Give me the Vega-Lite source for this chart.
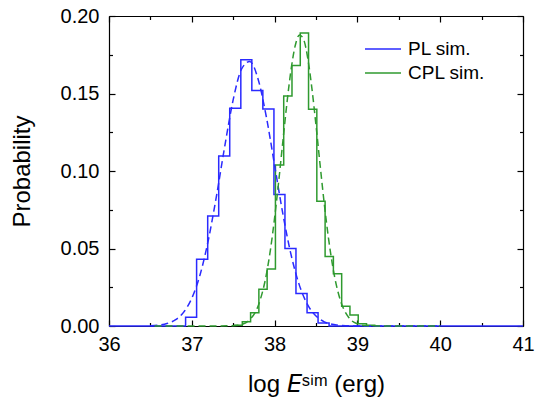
{
  "$schema": "https://vega.github.io/schema/vega-lite/v6.json",
  "width": 414,
  "height": 310,
  "autosize": {"type": "none"},
  "padding": {"left": 109, "top": 16, "right": 13, "bottom": 76},
  "config": {
    "font": "Liberation Sans",
    "view": {"stroke": null},
    "axis": {
      "grid": false,
      "labelFlush": false,
      "labelOverlap": false,
      "domainColor": "black",
      "tickColor": "black",
      "labelColor": "black",
      "titleColor": "black",
      "domainWidth": 1.2,
      "tickWidth": 1.2,
      "labelFont": "Liberation Sans",
      "titleFont": "Liberation Sans",
      "titleFontWeight": "normal"
    }
  },
  "layer": [
    {
      "data": {"values": [
        {"series": "PL sim.", "logE": 36.0, "p": 0},
        {"series": "PL sim.", "logE": 36.925, "p": 0.0056},
        {"series": "PL sim.", "logE": 37.058, "p": 0.043},
        {"series": "PL sim.", "logE": 37.192, "p": 0.071},
        {"series": "PL sim.", "logE": 37.325, "p": 0.1096},
        {"series": "PL sim.", "logE": 37.458, "p": 0.1405},
        {"series": "PL sim.", "logE": 37.592, "p": 0.1717},
        {"series": "PL sim.", "logE": 37.725, "p": 0.152},
        {"series": "PL sim.", "logE": 37.858, "p": 0.140},
        {"series": "PL sim.", "logE": 37.992, "p": 0.0848},
        {"series": "PL sim.", "logE": 38.125, "p": 0.050},
        {"series": "PL sim.", "logE": 38.258, "p": 0.021},
        {"series": "PL sim.", "logE": 38.392, "p": 0.0086},
        {"series": "PL sim.", "logE": 38.525, "p": 0.002},
        {"series": "PL sim.", "logE": 38.658, "p": 0},
        {"series": "PL sim.", "logE": 41.0, "p": 0}
      ]},
      "mark": {"type": "line", "interpolate": "step-after", "strokeWidth": 1.5},
      "encoding": {
        "x": {
          "field": "logE", "type": "quantitative",
          "scale": {"domain": [36, 41], "nice": false, "zero": false},
          "axis": {
            "orient": "bottom", "values": [36, 37, 38, 39, 40, 41], "format": "d",
            "tickSize": -6, "labelPadding": 14, "labelFontSize": 20,
            "title": "log 𝘌ˢⁱᵐ (erg)", "titleFontSize": 24, "titlePadding": 18
          }
        },
        "y": {
          "field": "p", "type": "quantitative",
          "scale": {"domain": [0, 0.2], "nice": false},
          "axis": {
            "orient": "left", "values": [0, 0.05, 0.1, 0.15, 0.2], "format": ".2f",
            "tickSize": -6, "labelPadding": 16, "labelFontSize": 20,
            "title": "Probability", "titleFontSize": 24, "titlePadding": 26
          }
        },
        "color": {
          "field": "series", "type": "nominal",
          "scale": {"domain": ["PL sim.", "CPL sim."], "range": ["#2a2aff", "#2f9a2f"]},
          "legend": {
            "orient": "none", "legendX": 264, "legendY": 23, "title": null,
            "symbolType": "M-2,0H2", "symbolSize": 324, "symbolStrokeWidth": 1.5,
            "labelFontSize": 19, "labelOffset": 15, "rowPadding": 4,
            "labelFont": "Liberation Sans", "labelColor": "black", "padding": 0
          }
        }
      }
    },
    {
      "data": {"values": [
        {"series": "CPL sim.", "logE": 37.51, "p": 0.0005},
        {"series": "CPL sim.", "logE": 37.61, "p": 0.0028},
        {"series": "CPL sim.", "logE": 37.71, "p": 0.0086},
        {"series": "CPL sim.", "logE": 37.81, "p": 0.0237},
        {"series": "CPL sim.", "logE": 37.91, "p": 0.0367},
        {"series": "CPL sim.", "logE": 38.01, "p": 0.1038},
        {"series": "CPL sim.", "logE": 38.11, "p": 0.1484},
        {"series": "CPL sim.", "logE": 38.21, "p": 0.168},
        {"series": "CPL sim.", "logE": 38.31, "p": 0.189},
        {"series": "CPL sim.", "logE": 38.41, "p": 0.1398},
        {"series": "CPL sim.", "logE": 38.51, "p": 0.0805},
        {"series": "CPL sim.", "logE": 38.61, "p": 0.0449},
        {"series": "CPL sim.", "logE": 38.71, "p": 0.0337},
        {"series": "CPL sim.", "logE": 38.81, "p": 0.0127},
        {"series": "CPL sim.", "logE": 38.91, "p": 0.0071},
        {"series": "CPL sim.", "logE": 39.01, "p": 0.0015},
        {"series": "CPL sim.", "logE": 39.11, "p": 0.0005},
        {"series": "CPL sim.", "logE": 39.21, "p": 0}
      ]},
      "mark": {"type": "line", "interpolate": "step-after", "strokeWidth": 1.5},
      "encoding": {
        "x": {
          "field": "logE", "type": "quantitative",
          "axis": {
            "orient": "top", "values": [36, 37, 38, 39, 40, 41],
            "tickSize": -6, "labels": false, "title": null
          }
        },
        "y": {
          "field": "p", "type": "quantitative",
          "axis": {
            "orient": "right", "values": [0, 0.05, 0.1, 0.15, 0.2],
            "tickSize": -6, "labels": false, "title": null
          }
        },
        "color": {"field": "series", "type": "nominal"}
      }
    },
    {
      "data": {"values": [
        {"series": "PL sim.", "logE": 36.5, "p": 0.0002},
        {"series": "PL sim.", "logE": 36.6, "p": 0.0006},
        {"series": "PL sim.", "logE": 36.7, "p": 0.0016},
        {"series": "PL sim.", "logE": 36.8, "p": 0.0039},
        {"series": "PL sim.", "logE": 36.9, "p": 0.0088},
        {"series": "PL sim.", "logE": 37.0, "p": 0.0179},
        {"series": "PL sim.", "logE": 37.1, "p": 0.0331},
        {"series": "PL sim.", "logE": 37.2, "p": 0.0555},
        {"series": "PL sim.", "logE": 37.3, "p": 0.0845},
        {"series": "PL sim.", "logE": 37.4, "p": 0.1166},
        {"series": "PL sim.", "logE": 37.5, "p": 0.146},
        {"series": "PL sim.", "logE": 37.6, "p": 0.1657},
        {"series": "PL sim.", "logE": 37.7, "p": 0.1707},
        {"series": "PL sim.", "logE": 37.8, "p": 0.1594},
        {"series": "PL sim.", "logE": 37.9, "p": 0.135},
        {"series": "PL sim.", "logE": 38.0, "p": 0.1037},
        {"series": "PL sim.", "logE": 38.1, "p": 0.0723},
        {"series": "PL sim.", "logE": 38.2, "p": 0.0457},
        {"series": "PL sim.", "logE": 38.3, "p": 0.0262},
        {"series": "PL sim.", "logE": 38.4, "p": 0.0136},
        {"series": "PL sim.", "logE": 38.5, "p": 0.0064},
        {"series": "PL sim.", "logE": 38.6, "p": 0.0027},
        {"series": "PL sim.", "logE": 38.7, "p": 0.0011},
        {"series": "PL sim.", "logE": 38.8, "p": 0.0004},
        {"series": "PL sim.", "logE": 39.0, "p": 0},
        {"series": "PL sim.", "logE": 40.0, "p": 0}
      ]},
      "mark": {"type": "line", "interpolate": "monotone", "strokeWidth": 1.5, "strokeDash": [7, 4]},
      "encoding": {
        "x": {
          "field": "logE", "type": "quantitative",
          "axis": {
            "orient": "bottom", "values": [36.5, 37.5, 38.5, 39.5, 40.5],
            "tickSize": -3.5, "labels": false, "domain": false, "title": null
          }
        },
        "y": {
          "field": "p", "type": "quantitative",
          "axis": {
            "orient": "left", "values": [0.025, 0.075, 0.125, 0.175],
            "tickSize": -3.5, "labels": false, "domain": false, "title": null
          }
        },
        "color": {"field": "series", "type": "nominal"}
      }
    },
    {
      "data": {"values": [
        {"series": "CPL sim.", "logE": 36.55, "p": 0},
        {"series": "CPL sim.", "logE": 37.3, "p": 0},
        {"series": "CPL sim.", "logE": 37.5, "p": 0.0002},
        {"series": "CPL sim.", "logE": 37.6, "p": 0.001},
        {"series": "CPL sim.", "logE": 37.7, "p": 0.0041},
        {"series": "CPL sim.", "logE": 37.8, "p": 0.0128},
        {"series": "CPL sim.", "logE": 37.9, "p": 0.0331},
        {"series": "CPL sim.", "logE": 37.95, "p": 0.0493},
        {"series": "CPL sim.", "logE": 38.0, "p": 0.0697},
        {"series": "CPL sim.", "logE": 38.05, "p": 0.0935},
        {"series": "CPL sim.", "logE": 38.1, "p": 0.1192},
        {"series": "CPL sim.", "logE": 38.15, "p": 0.1443},
        {"series": "CPL sim.", "logE": 38.2, "p": 0.1659},
        {"series": "CPL sim.", "logE": 38.25, "p": 0.1811},
        {"series": "CPL sim.", "logE": 38.3, "p": 0.1878},
        {"series": "CPL sim.", "logE": 38.35, "p": 0.1849},
        {"series": "CPL sim.", "logE": 38.4, "p": 0.1729},
        {"series": "CPL sim.", "logE": 38.45, "p": 0.1535},
        {"series": "CPL sim.", "logE": 38.5, "p": 0.1295},
        {"series": "CPL sim.", "logE": 38.55, "p": 0.1037},
        {"series": "CPL sim.", "logE": 38.6, "p": 0.0788},
        {"series": "CPL sim.", "logE": 38.65, "p": 0.057},
        {"series": "CPL sim.", "logE": 38.7, "p": 0.0391},
        {"series": "CPL sim.", "logE": 38.75, "p": 0.0254},
        {"series": "CPL sim.", "logE": 38.8, "p": 0.0157},
        {"series": "CPL sim.", "logE": 38.9, "p": 0.0052},
        {"series": "CPL sim.", "logE": 39.0, "p": 0.0014},
        {"series": "CPL sim.", "logE": 39.1, "p": 0.0003},
        {"series": "CPL sim.", "logE": 39.3, "p": 0},
        {"series": "CPL sim.", "logE": 40.0, "p": 0}
      ]},
      "mark": {"type": "line", "interpolate": "monotone", "strokeWidth": 1.5, "strokeDash": [7, 4]},
      "encoding": {
        "x": {
          "field": "logE", "type": "quantitative",
          "axis": {
            "orient": "top", "values": [36.5, 37.5, 38.5, 39.5, 40.5],
            "tickSize": -3.5, "labels": false, "domain": false, "title": null
          }
        },
        "y": {
          "field": "p", "type": "quantitative",
          "axis": {
            "orient": "right", "values": [0.025, 0.075, 0.125, 0.175],
            "tickSize": -3.5, "labels": false, "domain": false, "title": null
          }
        },
        "color": {"field": "series", "type": "nominal"}
      }
    }
  ],
  "resolve": {"axis": {"x": "independent", "y": "independent"}}
}
